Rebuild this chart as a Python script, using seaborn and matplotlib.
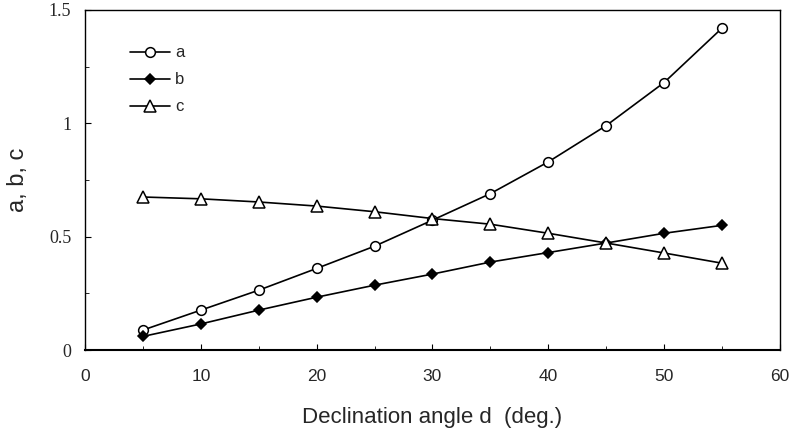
import matplotlib
matplotlib.use("Agg")
import matplotlib.pyplot as plt
import seaborn as sns
import pandas as pd
from matplotlib.ticker import MultipleLocator

angles = [5, 10, 15, 20, 25, 30, 35, 40, 45, 50, 55]
a_vals = [0.088, 0.176, 0.264, 0.36, 0.458, 0.573, 0.69, 0.83, 0.99, 1.18, 1.42]
b_vals = [0.06, 0.115, 0.176, 0.233, 0.286, 0.335, 0.388, 0.43, 0.472, 0.515, 0.55]
c_vals = [0.675, 0.667, 0.653, 0.635, 0.61, 0.58, 0.555, 0.515, 0.472, 0.428, 0.383]
series_names = ["a", "b", "c"]
x_ticks = [0, 10, 20, 30, 40, 50, 60]
y_ticks = [0, 0.5, 1, 1.5]
y_tick_labels = ["0", "0.5", "1", "1.5"]

sns.set_style("ticks")
plt.rcParams['font.family'] = ['Liberation Sans', 'DejaVu Sans']

fig = plt.figure(figsize=(7.91, 4.34), dpi=100)
ax = fig.add_axes([0.1075, 0.1935, 0.8785, 0.7835])

styles = {
    "a": dict(marker="o", markerfacecolor="white", markeredgecolor="black", markersize=7),
    "b": dict(marker="D", markerfacecolor="black", markeredgecolor="black", markersize=5.5),
    "c": dict(marker="^", markerfacecolor="white", markeredgecolor="black", markersize=8),
}
for name, vals in zip(series_names, [a_vals, b_vals, c_vals]):
    df = pd.DataFrame({"x": angles, "y": vals})
    sns.lineplot(data=df, x="x", y="y", ax=ax, color="black", linewidth=1.2,
                 markeredgewidth=1.1, label=name, **styles[name])

ax.set_xlim(0, 60)
ax.set_ylim(0, 1.5)
ax.set_xticks(x_ticks)
ax.set_yticks(y_ticks)
ax.set_yticklabels(y_tick_labels, family="Liberation Serif", fontsize=13)
ax.xaxis.set_minor_locator(MultipleLocator(5))
ax.yaxis.set_minor_locator(MultipleLocator(0.25))
ax.tick_params(axis="both", which="both", direction="in", color="black")
ax.tick_params(axis="both", which="major", length=4, width=0.8)
ax.tick_params(axis="both", which="minor", length=3, width=0.6)
ax.tick_params(axis="x", labelsize=12.5, pad=14)
ax.tick_params(axis="y", pad=10)
for lbl in ax.get_xticklabels():
    lbl.set_family("Liberation Sans")

for side in ["top", "right", "left", "bottom"]:
    ax.spines[side].set_visible(True)
    ax.spines[side].set_color("black")
    ax.spines[side].set_linewidth(1.0)
ax.spines["bottom"].set_linewidth(1.5)

ax.set_xlabel("Declination angle d  (deg.)", fontsize=16, labelpad=16)
ax.set_ylabel("a, b, c", fontsize=17, labelpad=14)

leg = ax.legend(loc="upper left", bbox_to_anchor=(0.043, 0.94), frameon=False,
                handlelength=2.4, labelspacing=0.72, fontsize=12, handletextpad=0.3)

fig.savefig("out.png", dpi=100)
